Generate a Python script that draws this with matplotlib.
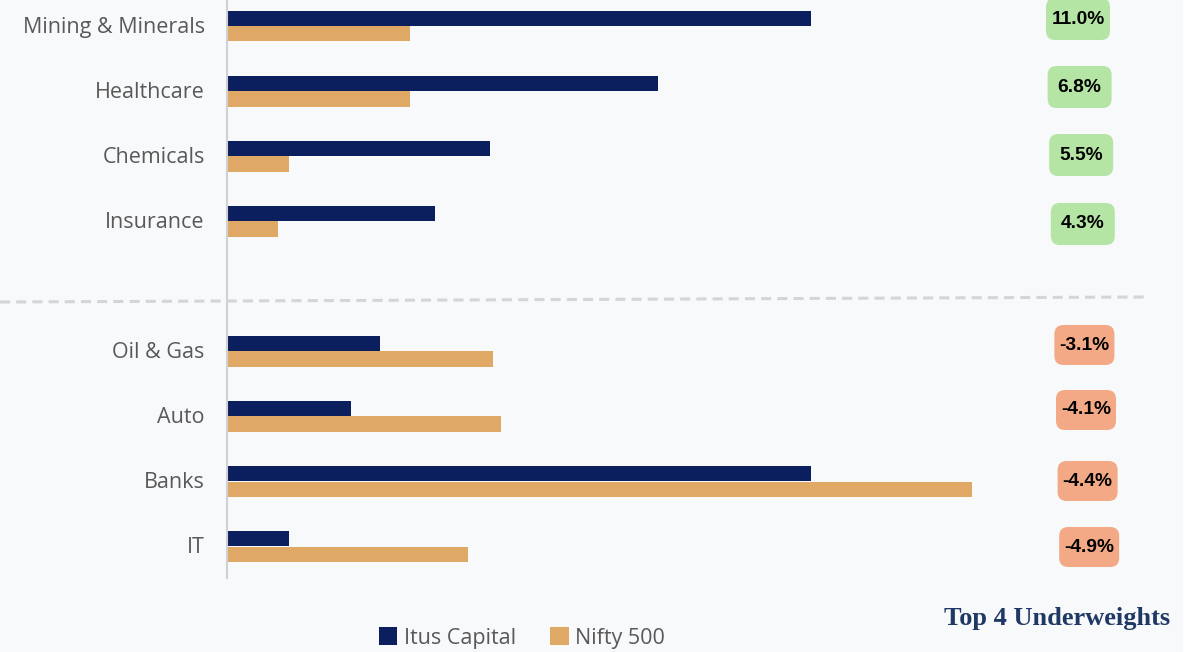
import matplotlib
matplotlib.use("Agg")
import matplotlib.pyplot as plt
from matplotlib.lines import Line2D
from matplotlib.patches import Rectangle, FancyBboxPatch

# Datos (% del portafolio)
sectores = ["Mining & Minerals", "Healthcare", "Chemicals", "Insurance",
            "Oil & Gas", "Auto", "Banks", "IT"]
itus = [16.0, 11.8, 7.2, 5.7, 4.2, 3.4, 16.0, 1.7]
nifty = [5.0, 5.0, 1.7, 1.4, 7.3, 7.5, 20.4, 6.6]
diferencia = ["11.0%", "6.8%", "5.5%", "4.3%", "-3.1%", "-4.1%", "-4.4%", "-4.9%"]
posiciones = [0, 1, 2, 3, 5, 6, 7, 8]

W, H = 1193, 652
fondo = "#F8F9FB"
navy = "#0B1F5E"
naranja = "#E0A865"

fig = plt.figure(figsize=(W / 100, H / 100), dpi=100, facecolor=fondo)
ax = fig.add_axes([227 / W, 74 / H, (1145 - 227) / W, 585.5 / H])
ax.set_facecolor(fondo)

y_itus = [p - 0.105 for p in posiciones]
y_nifty = [p + 0.135 for p in posiciones]
ax.barh(y_itus, itus, height=0.235, color=navy, label="Itus Capital")
ax.barh(y_nifty, nifty, height=0.235, color=naranja, label="Nifty 500")

ax.set_xlim(0, (1145 - 227) / 36.5)
ax.set_ylim(8.5, -0.5)
ax.set_yticks(posiciones)
ax.set_yticklabels(sectores, fontsize=15.5, color="#595959", family="Open Sans")
ax.tick_params(axis="y", length=0, pad=16)
ax.set_xticks([])
for s in ["top", "right", "bottom"]:
    ax.spines[s].set_visible(False)
ax.spines["left"].set_color("#D0D1D4")
ax.spines["left"].set_linewidth(1.5)

# Linea punteada separadora
fig.add_artist(Line2D([0, 1145 / W], [1 - 302 / H, 1 - 297 / H], color="#D3D5DB",
                      lw=2.2, linestyle=(0, (3.3, 2.0)), transform=fig.transFigure))

# Etiquetas de diferencia en cajas redondeadas
centros_y = [19, 87, 155, 224, 345, 410, 481, 547]
for i, (txt, cy) in enumerate(zip(diferencia, centros_y)):
    cx = 1078 + 1.6 * i
    negativo = txt.startswith("-")
    color = "#F3A986" if negativo else "#B5E5A5"
    bw, bh = (60, 40) if negativo else (64, 42)
    caja = FancyBboxPatch(((cx - bw / 2 + 6) / W, (H - cy - bh / 2 + 6) / H),
                          (bw - 12) / W, (bh - 12) / H,
                          boxstyle="round,pad=0,rounding_size=0.0095",
                          transform=fig.transFigure, fc=color, ec="none",
                          mutation_aspect=W / H)
    caja.set_boxstyle("round", pad=6 / W, rounding_size=9 / W)
    fig.add_artist(caja)
    fig.text(cx / W, 1 - cy / H, txt, ha="center", va="center", fontsize=13.8,
             fontweight="bold", family="Liberation Sans", color="black")

# Leyenda
ley = fig.legend(loc="center", bbox_to_anchor=(522 / W, 1 - 638 / H), ncol=2, frameon=False,
                 prop={"family": "Open Sans", "size": 15.5}, handlelength=0.85, handleheight=0.85,
                 handletextpad=0.3, columnspacing=1.6)
for t in ley.get_texts():
    t.set_color("#595959")

fig.text(1170 / W, 1 - 619 / H, "Top 4 Underweights", ha="right", va="center", fontsize=19,
         fontweight="bold", family="Liberation Serif", color="#1F3864")

# Borde blanco a la derecha
fig.add_artist(Rectangle((1183 / W, 0), 10 / W, 1, transform=fig.transFigure, fc="white", ec="none"))

fig.savefig("out.png", dpi=100, facecolor=fondo)
